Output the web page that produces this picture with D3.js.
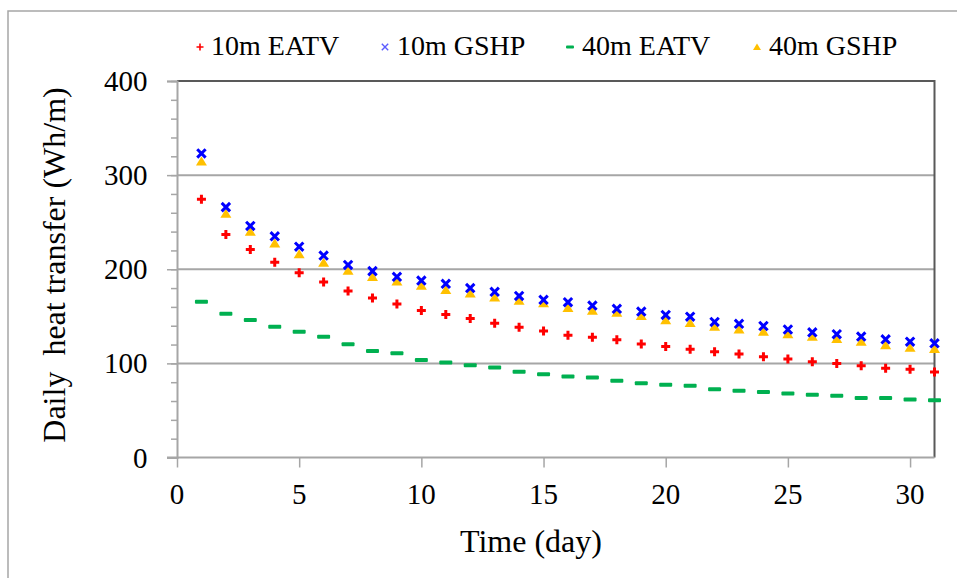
<!DOCTYPE html>
<html>
<head>
<meta charset="utf-8">
<script src="https://cdn.jsdelivr.net/npm/d3@7"></script>
</head>
<body style="margin:0">
<svg id="chart" width="957" height="578"></svg>
<script>
// ---- data ----
const days = d3.range(1, 32);
const eatv10 = [274.5, 237, 221, 207.4, 196.4, 186.5, 177, 169.5, 163, 156.2, 152, 147.6, 142.7, 138.4, 134.5, 130, 127.8, 125, 120.7, 118, 115, 112.4, 110, 107, 104.7, 101.8, 100, 97.6, 94.8, 93.7, 90.9];
const gshp10 = [323, 266, 246, 235, 224, 214.5, 204.6, 198, 192, 188, 184.5, 180, 176, 171.6, 167.5, 165, 161.4, 158, 155, 151.5, 149.6, 144, 142, 139.7, 136, 133, 131, 128.5, 125.6, 123, 121.3];
const eatv40 = [165.5, 152.8, 146, 139, 133.7, 128.4, 120.3, 113.2, 110.7, 103.7, 100.8, 98, 95.5, 91, 88.4, 86, 85, 81.6, 79, 77.4, 76.3, 72.5, 71, 69.6, 68, 66.7, 65.6, 63.2, 63.2, 61.7, 60.8];
const gshp40 = [314.6, 259, 240, 227.6, 216, 207, 198.5, 192, 187, 182.6, 178, 174.5, 170, 166.6, 164, 159, 156, 154, 150.4, 146, 143, 139, 136, 133.7, 131, 128.4, 126, 123, 119.5, 116.7, 115.3];
const seriesNames = ["10m EATV", "10m GSHP", "40m EATV", "40m GSHP"];
const xTicks = [0, 5, 10, 15, 20, 25, 30];
const yTicks = [0, 100, 200, 300, 400];
const xTitle = "Time (day)";
const yTitle = "Daily  heat transfer (Wh/m)";

const FONT = '"Liberation Serif", monospace';
// text with the font set on both the <text> and an inner <tspan>
function label(parent, size, str) {
  const t = parent.append("text").attr("font-size", size)
    .style("font-family", FONT, "important").style("font-size", size + "px", "important");
  t.append("tspan").style("font-family", FONT, "important").style("font-size", size + "px", "important")
    .text(str);
  return t;
}

// ---- layout ----
const svg = d3.select("#chart");
const L = 177, R = 934.5, T = 81, B = 457.5;
const x = d3.scaleLinear().domain([0, 31]).range([L, R]);
const y = d3.scaleLinear().domain([0, 400]).range([B, T]);

// outer frame (right/bottom edges fall outside the picture)
svg.append("rect").attr("x", 8).attr("y", 11).attr("width", 1000).attr("height", 1000)
  .attr("fill", "none").attr("stroke", "#a6a6a6").attr("stroke-width", 1.5);

// gridlines
svg.append("g").selectAll("line").data([100, 200, 300]).join("line")
  .attr("x1", L).attr("x2", R).attr("y1", d => y(d)).attr("y2", d => y(d))
  .attr("stroke", "#a6a6a6").attr("stroke-width", 2);

// top & right border
svg.append("path")
  .attr("d", `M${L},${y(400)}H${R}V${B}`)
  .attr("fill", "none").attr("stroke", "#595959").attr("stroke-width", 2);

// y axis minor ticks
const yAxisMinor = d3.axisLeft(y).tickValues(d3.range(0, 401, 20)).tickSize(6).tickFormat("");
const gyMinor = svg.append("g").attr("transform", `translate(${L},0)`).call(yAxisMinor);
gyMinor.select(".domain").remove();
gyMinor.selectAll("line").attr("stroke", "#a6a6a6").attr("stroke-width", 1.5);
gyMinor.selectAll("text").remove();

// y axis (lines)
const yAxis = d3.axisLeft(y).tickValues(yTicks).tickSize(10).tickFormat("");
const gy = svg.append("g").attr("transform", `translate(${L},0)`).call(yAxis);
gy.select(".domain").attr("stroke", "#a6a6a6").attr("stroke-width", 2);
gy.selectAll("line").attr("stroke", "#a6a6a6").attr("stroke-width", 1.5);
gy.selectAll("text").remove();

// x axis (lines)
const xAxis = d3.axisBottom(x).tickValues(xTicks).tickSize(10).tickFormat("");
const gx = svg.append("g").attr("transform", `translate(0,${B})`).call(xAxis);
gx.select(".domain").attr("stroke", "#a6a6a6").attr("stroke-width", 2)
  .attr("d", `M${L - 10},0H${R}`);
gx.selectAll("line").attr("stroke", "#a6a6a6").attr("stroke-width", 1.5);
gx.selectAll("text").remove();

// tick labels, positioned through the same scales
const fmt = d3.format("d");
yTicks.forEach(v => {
  label(svg, 29, fmt(v)).attr("x", L - 29.5).attr("y", y(v) + 10).attr("text-anchor", "end");
});
xTicks.forEach(v => {
  label(svg, 29, fmt(v)).attr("x", x(v)).attr("y", 504).attr("text-anchor", "middle");
});

// axis titles
label(svg, 32, xTitle).attr("x", 531).attr("y", 552).attr("text-anchor", "middle");
label(svg, 32, yTitle).attr("transform", `translate(65,265) rotate(-90)`)
  .attr("text-anchor", "middle").style("white-space", "pre");

// ---- markers ----
const cRed = "#ff0000", cBlue = "#0000ff", cGreen = "#00b050", cYellow = "#ffc000";
function plus(g, s, w, c) {
  g.append("path").attr("d", `M${-s},0H${s}M0,${-s}V${s}`).attr("stroke", c).attr("stroke-width", w).attr("fill", "none");
}
function cross(g, s, w, c) {
  g.append("path").attr("d", `M${-s},${-s}L${s},${s}M${-s},${s}L${s},${-s}`).attr("stroke", c).attr("stroke-width", w).attr("fill", "none");
}
function dash(g, s, h, c) {
  g.append("rect").attr("x", -s).attr("y", -h / 2).attr("width", 2 * s).attr("height", h).attr("rx", 1).attr("fill", c);
}
function tri(g, s, c) {
  g.append("path").attr("d", `M0,${-s * 0.9}L${s},${s * 0.75}L${-s},${s * 0.75}Z`).attr("fill", c);
}

const plot = svg.append("g");
function drawSeries(vals, fn) {
  plot.append("g").selectAll("g").data(vals).join("g")
    .attr("transform", (v, i) => `translate(${x(days[i])},${y(v)})`)
    .each(function () { fn(d3.select(this)); });
}
drawSeries(eatv40, g => dash(g, 6.5, 4, cGreen));
drawSeries(eatv10, g => plus(g, 4.5, 3, cRed));
drawSeries(gshp40, g => tri(g, 5.5, cYellow));
drawSeries(gshp10, g => cross(g, 4.2, 3, cBlue));

// ---- legend ----
const legend = [
  { name: seriesNames[0], mx: 200, draw: g => plus(g, 3.5, 1.6, cRed), tx: 211 },
  { name: seriesNames[1], mx: 385, draw: g => cross(g, 3.2, 1.4, "#5b5bff"), tx: 397 },
  { name: seriesNames[2], mx: 570, draw: g => dash(g, 4, 3, cGreen), tx: 582 },
  { name: seriesNames[3], mx: 757, draw: g => tri(g, 4, cYellow), tx: 769 }
];
legend.forEach(d => {
  const g = svg.append("g").attr("transform", `translate(${d.mx},47)`);
  d.draw(g);
  label(svg, 28, d.name).attr("x", d.tx).attr("y", 55);
});
</script>
</body>
</html>
